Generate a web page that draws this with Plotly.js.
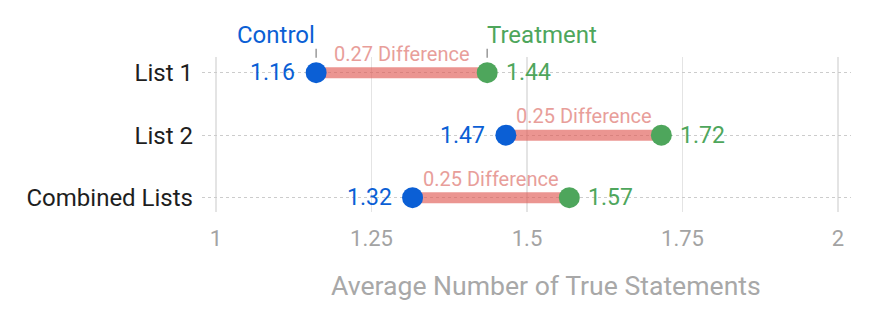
<!DOCTYPE html>
<html>
<head>
<meta charset="utf-8">
<script src="https://cdn.plot.ly/plotly-3.0.1.min.js"></script>
<style>html,body{margin:0;padding:0;background:#fff;}#chart{width:892px;height:322px;}</style>
</head>
<body>
<div id="chart"></div>
<script>
const categories = ["List 1", "List 2", "Combined Lists"];
const controlValues = [1.161, 1.466, 1.316];
const treatmentValues = [1.436, 1.716, 1.568];
const differenceLabels = ["0.27 Difference", "0.25 Difference", "0.25 Difference"];
const xTickVals = [1, 1.25, 1.5, 1.75, 2];
const xTickText = ["1", "1.25", "1.5", "1.75", "2"];
const xAxisTitle = "Average Number of True Statements";

const BLUE = "#0b5fd5";
const GREEN = "#4ea65c";
const BAR = "rgba(224,92,86,0.65)";
const DIFF_TEXT = "#e89e9a";
const FONT = "Roboto, 'Open Sans', sans-serif";

const traces = [];
categories.forEach((c, i) => {
  traces.push({
    type: "scatter", mode: "lines",
    x: [controlValues[i], treatmentValues[i]], y: [c, c],
    line: {color: BAR, width: 11},
    hoverinfo: "skip", showlegend: false
  });
});
traces.push({
  type: "scatter", mode: "markers", x: controlValues, y: categories,
  marker: {color: BLUE, size: 21}, showlegend: false, hoverinfo: "skip"
});
traces.push({
  type: "scatter", mode: "markers", x: treatmentValues, y: categories,
  marker: {color: GREEN, size: 21}, showlegend: false, hoverinfo: "skip"
});

const annotations = [];
categories.forEach((c, i) => {
  annotations.push({
    x: controlValues[i], y: c, xref: "x", yref: "y", showarrow: false,
    text: controlValues[i].toFixed(2), xanchor: "right", xshift: -19,
    font: {family: FONT, size: 23, color: BLUE}
  });
  annotations.push({
    x: treatmentValues[i], y: c, xref: "x", yref: "y", showarrow: false,
    text: treatmentValues[i].toFixed(2), xanchor: "left", xshift: 17,
    font: {family: FONT, size: 23, color: GREEN}
  });
  annotations.push({
    x: (controlValues[i] + treatmentValues[i]) / 2, y: c, xref: "x", yref: "y",
    showarrow: false, text: differenceLabels[i], xanchor: "center", yshift: 19,
    font: {family: FONT, size: 20, color: DIFF_TEXT}
  });
});
annotations.push({
  x: controlValues[0], y: categories[0], xref: "x", yref: "y", showarrow: false,
  text: "Control", xanchor: "right", xshift: 1, yshift: 38,
  font: {family: FONT, size: 24, color: BLUE}
});
annotations.push({
  x: treatmentValues[0], y: categories[0], xref: "x", yref: "y", showarrow: false,
  text: "Treatment", xanchor: "left", xshift: -2, yshift: 38,
  font: {family: FONT, size: 24, color: GREEN}
});
// short gray ticks linking "Control"/"Treatment" labels to the first row
[controlValues[0], treatmentValues[0]].forEach(v => {
  annotations.push({
    x: v, y: categories[0], xref: "x", yref: "y",
    showarrow: true, arrowhead: 0, arrowwidth: 1.5, arrowcolor: "#9a9a9a",
    ax: 0, ay: -26, standoff: 15, text: " ",
    font: {size: 1}
  });
});
annotations.push({
  x: 0.53, y: 0, xref: "paper", yref: "paper", showarrow: false,
  text: xAxisTitle, xanchor: "center", yanchor: "middle",
  font: {family: FONT, size: 26.6, color: "#a8a8a8"}
});

const layout = {
  width: 892, height: 322,
  margin: {l: 202, r: 41, t: 57, b: 110},
  paper_bgcolor: "#fff", plot_bgcolor: "#fff",
  font: {family: FONT},
  hovermode: false,
  showlegend: false,
  xaxis: {
    range: [0.9775, 2.0209],
    tickvals: xTickVals, ticktext: xTickText,
    showgrid: true, gridcolor: "#e4e4e4", gridwidth: 1.5,
    zeroline: false, showline: false, ticks: "",
    ticklabelstandoff: 11,
    tickfont: {family: FONT, size: 22, color: "#a3a3a3"}
  },
  yaxis: {
    type: "category", categoryorder: "array", categoryarray: categories,
    range: [2.23, -0.25],
    showgrid: true, gridcolor: "#cccccc", gridwidth: 1.2, griddash: "dot",
    zeroline: false, showline: false, ticks: "",
    ticklabelstandoff: 8,
    tickfont: {family: FONT, size: 24, color: "#1e1e1e"}
  },
  annotations: annotations
};
// x-axis title placed as a paper annotation: convert 285px from top to paper y
const plotH = layout.height - layout.margin.t - layout.margin.b;
annotations[annotations.length - 1].y = (layout.height - layout.margin.b - 285) / plotH;

Plotly.newPlot("chart", traces, layout, {displayModeBar: false, staticPlot: true});
</script>
</body>
</html>
